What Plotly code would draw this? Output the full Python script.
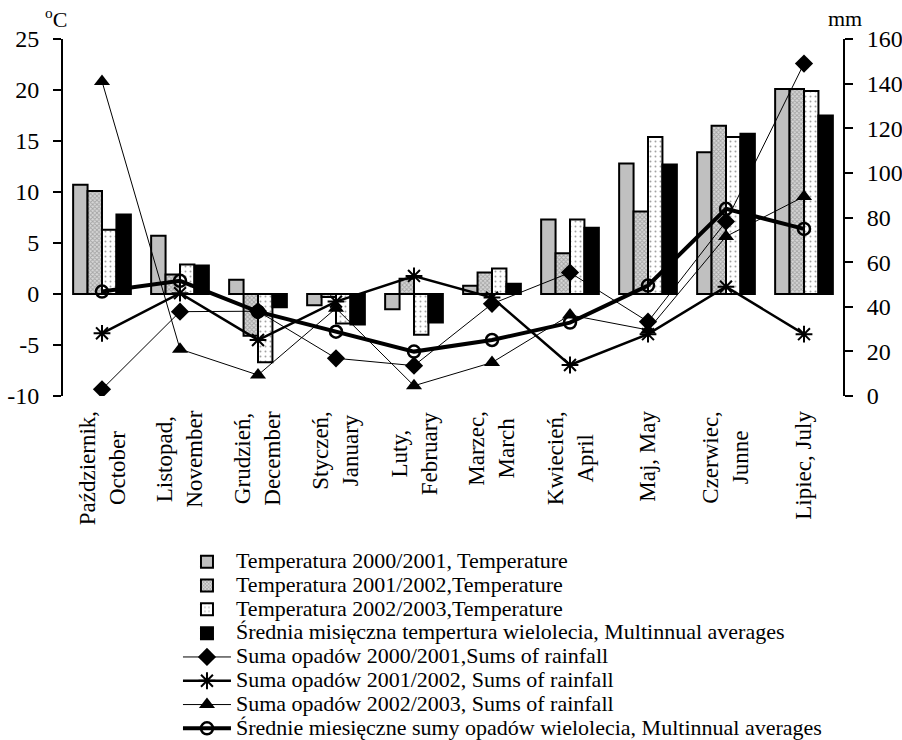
import plotly.graph_objects as go

# ---------------- data ----------------
month_labels = ["Październik,<br>October", "Listopad,<br>November", "Grudzień,<br>December",
                "Styczeń,<br>January", "Luty,<br>February", "Marzec,<br>March",
                "Kwiecień,<br>April", "Maj, May", "Czerwiec,<br>Junne", "Lipiec, July"]

temp_2000 = [10.7, 5.7, 1.4, -1.1, -1.5, 0.8, 7.3, 12.8, 13.9, 20.1]
temp_2001 = [10.1, 1.9, -4.1, -0.3, 1.5, 2.1, 4.0, 8.1, 16.5, 20.1]
temp_2002 = [6.3, 2.9, -6.7, -2.9, -4.0, 2.5, 7.3, 15.4, 15.4, 19.9]
temp_avg = [7.8, 2.8, -1.3, -3.0, -2.8, 1.0, 6.5, 12.7, 15.7, 17.5]

rain_2000 = [3.0, 37.8, 38.0, 16.9, 13.6, 41.3, 55.3, 33.3, 78.2, 149.0]
rain_2001 = [28.1, 46.1, 25.1, 42.3, 53.8, 44.1, 13.9, 27.7, 49.0, 27.7]
rain_2002 = [141.0, 21.0, 9.4, 39.3, 4.6, 15.0, 36.3, 29.6, 71.5, 89.4]
rain_avg = [46.8, 51.6, 37.8, 28.8, 19.9, 25.1, 32.9, 49.5, 83.9, 74.9]

temp_names = ["Temperatura 2000/2001, Temperature", "Temperatura 2001/2002,Temperature",
              "Temperatura 2002/2003,Temperature",
              "Średnia misięczna tempertura wielolecia, Multinnual averages"]
rain_names = ["Suma opadów 2000/2001,Sums of rainfall", "Suma opadów 2001/2002, Sums of rainfall",
              "Suma opadów 2002/2003, Sums of rainfall",
              "Średnie miesięczne sumy opadów wielolecia, Multinnual averages"]

left_ticks = [-10, -5, 0, 5, 10, 15, 20, 25]
left_ticktext = ["-10", "-5", "0", "5", "10", "15", "20", "25"]
right_ticks = [0, 20, 40, 60, 80, 100, 120, 140, 160]
right_ticktext = ["0", "20", "40", "60", "80", "100", "120", "140", "160"]
left_range = [-10, 25]
right_range = [0, 160]
# ---------------------------------------

FONT = "Liberation Serif"
idx = list(range(len(month_labels)))


def lname(s):
    return '<span style="font-size:22px">' + s + '</span>'


fig = go.Figure()
outline = dict(color="black", width=2)
fig.add_trace(go.Bar(x=idx, y=temp_2000, name=lname(temp_names[0]),
                     marker=dict(color="#c0c0c0", line=outline)))
fig.add_trace(go.Bar(x=idx, y=temp_2001, name=lname(temp_names[1]),
                     marker=dict(color="white", line=outline,
                                 pattern=dict(shape="x", size=3, solidity=0.5,
                                              fgcolor="#707070", bgcolor="#d8d8d8"))))
fig.add_trace(go.Bar(x=idx, y=temp_2002, name=lname(temp_names[2]),
                     marker=dict(color="white", line=outline,
                                 pattern=dict(shape=".", size=5, solidity=0.12,
                                              fgcolor="#444", bgcolor="white"))))
fig.add_trace(go.Bar(x=idx, y=temp_avg, name=lname(temp_names[3]),
                     marker=dict(color="black", line=outline)))

fig.add_trace(go.Scatter(x=idx, y=rain_2000, name=lname(rain_names[0]), yaxis="y2",
                         mode="lines+markers", line=dict(color="black", width=1),
                         marker=dict(symbol="diamond", size=14, color="black")))
fig.add_trace(go.Scatter(x=idx, y=rain_2001, name=lname(rain_names[1]), yaxis="y2",
                         mode="lines+markers", line=dict(color="black", width=2.5),
                         marker=dict(symbol="asterisk-open", size=14, color="black",
                                     line=dict(color="black", width=2))))
fig.add_trace(go.Scatter(x=idx, y=rain_2002, name=lname(rain_names[2]), yaxis="y2",
                         mode="lines+markers", line=dict(color="black", width=1),
                         marker=dict(symbol="triangle-up", size=14, color="black")))
fig.add_trace(go.Scatter(x=idx, y=rain_avg, name=lname(rain_names[3]), yaxis="y2",
                         mode="lines+markers", line=dict(color="black", width=4),
                         marker=dict(symbol="circle-open", size=12, color="black",
                                     line=dict(color="black", width=2.5))))

xr = [-0.5, len(idx) - 0.5]
zero_pos = (0 - left_range[0]) / (left_range[1] - left_range[0])
boundaries = [i + 0.5 for i in idx[:-1]]

for ml, lab in zip(idx, month_labels):
    fig.add_annotation(x=ml, xref="x", y=-0.037, yref="paper", text=lab,
                       textangle=-90, showarrow=False, xanchor="center", yanchor="top",
                       align="center", font=dict(family=FONT, size=23, color="black"))

fig.add_annotation(x=0, xref="paper", y=1.0, yref="paper", text="<sup>o</sup>C",
                   showarrow=False, xanchor="right", yanchor="bottom", xshift=6, yshift=5,
                   font=dict(family=FONT, size=22, color="black"))
fig.add_annotation(x=1, xref="paper", y=1.0, yref="paper", text="mm",
                   showarrow=False, xanchor="center", yanchor="bottom", xshift=2, yshift=6,
                   font=dict(family=FONT, size=22, color="black"))

axis_common = dict(showgrid=False, zeroline=False, linecolor="black", tickcolor="black",
                   automargin=False, tickfont=dict(family=FONT, size=24, color="black"))

fig.update_layout(
    width=902, height=740,
    margin=dict(l=63, r=59, t=39, b=344, autoexpand=False),
    paper_bgcolor="white", plot_bgcolor="white",
    font=dict(family=FONT, size=22, color="black"),
    barmode="group", bargap=0.26, bargroupgap=0,
    xaxis=dict(range=xr, showline=False, showgrid=False, zeroline=False,
               showticklabels=False, ticks="", automargin=False),
    xaxis2=dict(range=xr, overlaying="x", anchor="free", position=zero_pos,
                showline=True, linecolor="black", linewidth=1, showgrid=False,
                zeroline=False, tickvals=boundaries, ticks="outside", ticklen=7,
                tickcolor="black", showticklabels=False, automargin=False),
    xaxis3=dict(range=xr, overlaying="x", anchor="free", position=zero_pos,
                showline=False, showgrid=False, zeroline=False, tickvals=boundaries,
                ticks="inside", ticklen=7, tickcolor="black", showticklabels=False,
                automargin=False),
    yaxis=dict(range=left_range, tickvals=left_ticks, ticktext=left_ticktext,
               showline=True, linewidth=2, ticks="outside",
               ticklen=8, tickwidth=2, ticklabelstandoff=9, **axis_common),
    yaxis3=dict(range=left_range, tickvals=left_ticks, overlaying="y", side="left", anchor="x",
                showline=False, ticks="inside", ticklen=8, tickwidth=2, tickcolor="black",
                showticklabels=False, showgrid=False, zeroline=False, automargin=False),
    yaxis2=dict(range=right_range, tickvals=right_ticks, ticktext=right_ticktext,
                overlaying="y", side="right", anchor="x",
                showline=True, linewidth=2, ticks="outside", ticklen=8, tickwidth=2,
                ticklabelstandoff=9, **axis_common),
    yaxis4=dict(range=right_range, tickvals=right_ticks, overlaying="y", side="right", anchor="x",
                showline=False, ticks="inside", ticklen=8, tickwidth=2, tickcolor="black",
                showticklabels=False, showgrid=False, zeroline=False, automargin=False),
    legend=dict(x=0.1474, y=-0.98, xanchor="left", yanchor="bottom",
                font=dict(family=FONT, size=16, color="black"),
                itemwidth=48, tracegroupgap=0, traceorder="normal",
                bgcolor="rgba(0,0,0,0)", borderwidth=0),
    showlegend=True,
)

fig.write_html("out.html", config={"displayModeBar": False},
               post_script="document.body.style.margin='0';document.body.style.overflow='hidden';")
